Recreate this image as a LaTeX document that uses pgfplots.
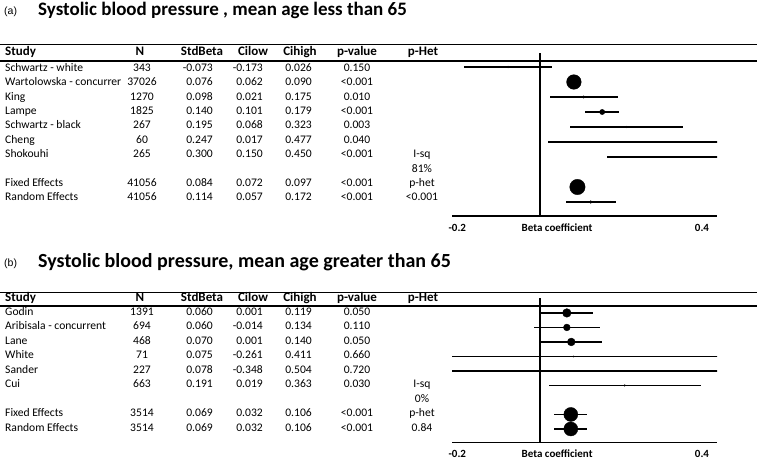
\documentclass[border=0pt]{standalone}
\usepackage{pgfplots}
\pgfplotsset{compat=1.18}
\usepackage{pgfplotstable}
\usepackage{fontspec}
\setmainfont{Carlito}
\newfontfamily\arialf{Liberation Sans}

% row index, estimate, lower and upper CI, marker radius (pt)
\pgfplotstableread{
i  b       lo      hi     r
0  -0.073  -0.173  0.026  0.9
1  0.076   0.062   0.090  7.3
2  0.098   0.021   0.175  1.2
3  0.140   0.101   0.179  2.6
4  0.195   0.068   0.323  0.8
5  0.247   0.017   0.477  0.7
6  0.300   0.150   0.450  0.7
8  0.084   0.072   0.097  7.7
9  0.114   0.057   0.172  1.4
}\younger

\pgfplotstableread{
i  b      lo      hi     r
0  0.060  0.001   0.119  4.3
1  0.060  -0.014  0.134  3.4
2  0.070  0.001   0.140  3.9
3  0.075  -0.261  0.411  0.6
4  0.078  -0.348  0.504  0.6
5  0.191  0.019   0.363  0.8
7  0.069  0.032   0.106  7.0
8  0.069  0.032   0.106  7.0
}\older

\newcommand\tabfont{\fontsize{11.6}{13}\selectfont}
\newcommand\trow[8]{%
  \node[anchor=mid west] at (5pt,-#1pt) {#2};
  \node[anchor=mid] at (142pt,-#1pt) {#3};
  \node[anchor=mid east] at (213pt,-#1pt) {#4};
  \node[anchor=mid east] at (263pt,-#1pt) {#5};
  \node[anchor=mid east] at (312pt,-#1pt) {#6};
  \node[anchor=mid] at (357pt,-#1pt) {#7};
  \node[anchor=mid] at (422pt,-#1pt) {#8};
}
\newcommand\thead[1]{%
  \begin{scope}[font=\fontsize{13}{15}\selectfont\bfseries, inner sep=0pt]
  \node[anchor=mid west] at (5pt,-#1pt) {Study};
  \node[anchor=mid] at (140pt,-#1pt) {N};
  \node[anchor=mid] at (202pt,-#1pt) {StdBeta};
  \node[anchor=mid] at (253pt,-#1pt) {Cilow};
  \node[anchor=mid] at (300pt,-#1pt) {Cihigh};
  \node[anchor=mid] at (357pt,-#1pt) {p-value};
  \node[anchor=mid] at (423pt,-#1pt) {p-Het};
  \end{scope}
}

\pgfplotsset{forest/.style={
  scale only axis, width=265pt,
  xmin=-0.2, xmax=0.4,
  axis x line=bottom, axis y line=none,
  x axis line style={-, line width=1.3pt},
  ytick=\empty,
  xtick={-0.188,0.038,0.366},
  xticklabels={-0.2,Beta coefficient,0.4},
  major tick length=0pt,
  xticklabel style={font=\fontsize{11}{13}\selectfont\bfseries, anchor=base, yshift=-15pt},
}}
\pgfplotsset{ci/.style={
  scatter, only marks, mark=*,
  scatter/use mapped color={draw=black, fill=black},
  visualization depends on={\thisrow{r} \as \rad},
  scatter/@pre marker code/.append style={/tikz/mark size=\rad},
  error bars/x dir=both, error bars/x explicit,
  error bars/error mark=none,
  error bars/error bar style={line width=1.2pt, black},
}}

\begin{document}
\begin{tikzpicture}
\useasboundingbox (0,0) rectangle (760pt,-460pt);

% ---- panel (a)
\node[anchor=mid west, inner sep=0pt, font=\arialf\fontsize{10.5}{12}\selectfont] at (4pt,-12pt) {(a)};
\node[anchor=mid west, inner sep=0pt, font=\fontsize{19}{22}\selectfont\bfseries] at (38pt,-13pt)
  {Systolic blood pressure , mean age less than 65};
\draw[line width=0.9pt] (0,-44pt) -- (757pt,-44pt);
\draw[line width=1.5pt] (0,-61pt) -- (757pt,-61pt);
\thead{53.5}
\begin{scope}[font=\tabfont, inner sep=0pt]
\trow{69}{Schwartz - white}{343}{-0.073}{-0.173}{0.026}{0.150}{}
\trow{83.4}{Wartolowska - concurrer}{37026}{0.076}{0.062}{0.090}{<0.001}{}
\trow{97.8}{King}{1270}{0.098}{0.021}{0.175}{0.010}{}
\trow{112.2}{Lampe}{1825}{0.140}{0.101}{0.179}{<0.001}{}
\trow{126.6}{Schwartz - black}{267}{0.195}{0.068}{0.323}{0.003}{}
\trow{141}{Cheng}{60}{0.247}{0.017}{0.477}{0.040}{}
\trow{155.4}{Shokouhi}{265}{0.300}{0.150}{0.450}{<0.001}{I-sq}
\trow{169.8}{}{}{}{}{}{}{81\%}
\trow{184.2}{Fixed Effects}{41056}{0.084}{0.072}{0.097}{<0.001}{p-het}
\trow{198.6}{Random Effects}{41056}{0.114}{0.057}{0.172}{<0.001}{<0.001}
\end{scope}

\begin{axis}[forest, at={(452pt,-216pt)}, anchor=south west,
  height=163pt, ymin=-9.933, ymax=0.933]
\addplot[line width=1.8pt] coordinates {(0,-9.933) (0,0.933)};
\addplot[ci] table[x=b, y expr=-\thisrow{i},
  x error plus expr=\thisrow{hi}-\thisrow{b},
  x error minus expr=\thisrow{b}-\thisrow{lo}] {\younger};
\end{axis}

% ---- panel (b)
\node[anchor=mid west, inner sep=0pt, font=\arialf\fontsize{10.5}{12}\selectfont] at (4pt,-264pt) {(b)};
\node[anchor=mid west, inner sep=0pt, font=\fontsize{20}{23}\selectfont\bfseries] at (38pt,-265pt)
  {Systolic blood pressure, mean age greater than 65};
\draw[line width=0.9pt] (0,-292pt) -- (757pt,-292pt);
\draw[line width=1.5pt] (0,-306pt) -- (757pt,-306pt);
\thead{299.5}
\begin{scope}[font=\tabfont, inner sep=0pt]
\trow{313}{Godin}{1391}{0.060}{0.001}{0.119}{0.050}{}
\trow{327.5}{Aribisala - concurrent}{694}{0.060}{-0.014}{0.134}{0.110}{}
\trow{342}{Lane}{468}{0.070}{0.001}{0.140}{0.050}{}
\trow{356.5}{White}{71}{0.075}{-0.261}{0.411}{0.660}{}
\trow{371}{Sander}{227}{0.078}{-0.348}{0.504}{0.720}{}
\trow{385.5}{Cui}{663}{0.191}{0.019}{0.363}{0.030}{I-sq}
\trow{400}{}{}{}{}{}{}{0\%}
\trow{414.5}{Fixed Effects}{3514}{0.069}{0.032}{0.106}{<0.001}{p-het}
\trow{429}{Random Effects}{3514}{0.069}{0.032}{0.106}{<0.001}{0.84}
\end{scope}

\begin{axis}[forest, at={(452pt,-442.3pt)}, anchor=south west,
  height=144.3pt, ymin=-8.92, ymax=1.03]
\addplot[line width=1.8pt] coordinates {(0,-8.92) (0,1.03)};
\addplot[ci] table[x=b, y expr=-\thisrow{i},
  x error plus expr=\thisrow{hi}-\thisrow{b},
  x error minus expr=\thisrow{b}-\thisrow{lo}] {\older};
\end{axis}
\end{tikzpicture}
\end{document}
